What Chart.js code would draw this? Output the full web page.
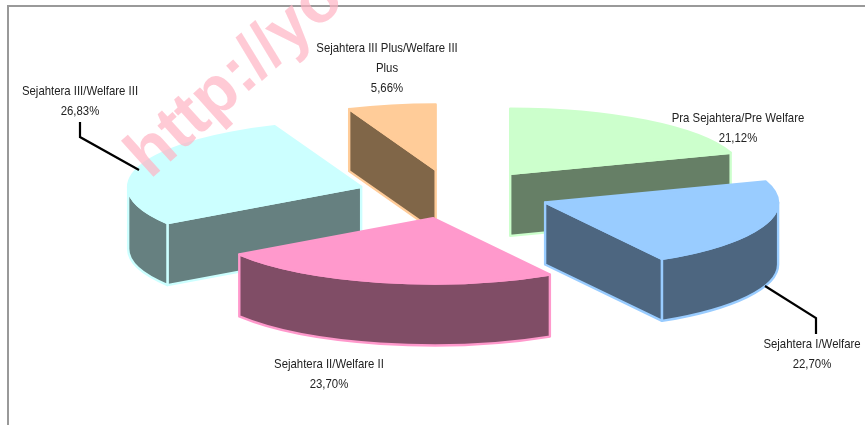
<!DOCTYPE html>
<html><head><meta charset="utf-8">
<style>html,body{margin:0;padding:0;background:#fff}canvas{display:block}</style>
<script src="https://cdn.jsdelivr.net/npm/chart.js@4"></script>
</head><body><canvas id="c" width="865" height="425"></canvas>
<script>
const categories = ['Pra Sejahtera/Pre Welfare','Sejahtera I/Welfare','Sejahtera II/Welfare II','Sejahtera III/Welfare III','Sejahtera III Plus/Welfare III Plus'];
const values = [21.12,22.70,23.70,26.83,5.66];
const valueLabels = ['21,12%','22,70%','23,70%','26,83%','5,66%'];
const topColors = ['#CCFFCC','#99CCFF','#FF99CC','#CCFFFF','#FFCC99'];
const wallColors = ['#667F66','#4D6680','#804D66','#668080','#806648'];
const explode = [97,97,97,97,97];
const drawOrder = [4,0,3,1,2];
const watermark = 'http://you';
const RIM_TILT = 0.28, OFFSET_TILT = 0.255, DEPTH = 62, WARP = 8*Math.PI/180;
const labelLayout = [
  {x:738,y:118,lines:['Pra Sejahtera/Pre Welfare','21,12%']},
  {x:812,y:344,lines:['Sejahtera I/Welfare','22,70%']},
  {x:329,y:364,lines:['Sejahtera II/Welfare II','23,70%']},
  {x:80,y:91,lines:['Sejahtera III/Welfare III','26,83%']},
  {x:387,y:48,lines:['Sejahtera III Plus/Welfare III','Plus','5,66%']}
];
const leaders = [[[80,122],[80,137],[139,170]],[[765,286],[816,318],[816,334]]];

// foreshortening of the 3D view: angles swing slightly towards the back
const warp = a => a - WARP*Math.sin((a + Math.PI/2)/2);

function slice3D(ctx, el, i){
  const p = el.getProps(['x','y','startAngle','endAngle','outerRadius'], true);
  const a0 = warp(p.startAngle), a1 = warp(p.endAngle), r = p.outerRadius;
  const mid = warp((p.startAngle+p.endAngle)/2), off = el.options.offset || 0;
  const ax = p.x + Math.cos(mid)*off, ay = p.y + Math.sin(mid)*off*OFFSET_TILT;
  const edge = a => [ax + r*Math.cos(a), ay + r*RIM_TILT*Math.sin(a)];
  ctx.lineJoin = 'round';
  ctx.lineWidth = 2.4;
  ctx.strokeStyle = topColors[i];
  ctx.fillStyle = wallColors[i];
  const face = a => {
    const e = edge(a);
    ctx.beginPath();
    ctx.moveTo(ax,ay); ctx.lineTo(e[0],e[1]); ctx.lineTo(e[0],e[1]+DEPTH); ctx.lineTo(ax,ay+DEPTH);
    ctx.closePath(); ctx.fill(); ctx.stroke();
  };
  if (Math.cos(a0) < -0.001) face(a0);
  if (Math.cos(a1) > 0.001) face(a1);
  const lo = Math.max(a0, 0), hi = Math.min(a1, Math.PI);
  if (hi > lo) {
    ctx.beginPath();
    ctx.ellipse(ax,ay,r,r*RIM_TILT,0,lo,hi,false);
    ctx.ellipse(ax,ay+DEPTH,r,r*RIM_TILT,0,hi,lo,true);
    ctx.closePath(); ctx.fill(); ctx.stroke();
  }
  ctx.fillStyle = topColors[i];
  ctx.beginPath();
  ctx.moveTo(ax,ay);
  ctx.ellipse(ax,ay,r,r*RIM_TILT,0,a0,a1,false);
  ctx.closePath(); ctx.fill(); ctx.stroke();
}

const pie3D = {
  id:'pie3D',
  beforeDraw(chart){
    const ctx = chart.ctx;
    ctx.save();
    ctx.strokeStyle = '#999999'; ctx.lineWidth = 2;
    ctx.beginPath(); ctx.moveTo(865,6); ctx.lineTo(8,6); ctx.lineTo(8,425); ctx.stroke();
    ctx.restore();
  },
  beforeDatasetDraw(chart, args){
    const ctx = chart.ctx, arcs = args.meta.data;
    ctx.save();
    drawOrder.forEach(i => slice3D(ctx, arcs[i], i));
    ctx.restore();
    return false;
  },
  afterDraw(chart){
    const ctx = chart.ctx;
    ctx.save();
    ctx.strokeStyle = '#000'; ctx.lineWidth = 2.2; ctx.lineJoin='miter';
    leaders.forEach(l => { ctx.beginPath(); l.forEach((q,j)=> j?ctx.lineTo(q[0],q[1]):ctx.moveTo(q[0],q[1])); ctx.stroke(); });
    ctx.fillStyle = '#222';
    ctx.font = '13px "Liberation Sans",Arial,sans-serif';
    ctx.textAlign = 'center'; ctx.textBaseline = 'middle';
    labelLayout.forEach(l => l.lines.forEach((t,j)=> {
      ctx.save();
      ctx.translate(l.x, l.y + j*20.3);
      ctx.scale(0.875,1);
      ctx.fillText(t,0,0);
      ctx.restore();
    }));
    ctx.save();
    ctx.translate(150,180);
    ctx.rotate(-42*Math.PI/180);
    ctx.font = 'bold 67px "Liberation Sans",Arial,sans-serif';
    ctx.textAlign = 'left'; ctx.textBaseline = 'alphabetic';
    ctx.fillStyle = 'rgba(255,180,195,0.7)';
    ctx.strokeStyle = 'rgba(255,180,195,0.7)';
    ctx.fillText(watermark, 0, 0);
    ctx.restore();
    ctx.restore();
  }
};

new Chart(document.getElementById('c'), {
  type:'pie',
  data:{labels:categories,datasets:[{data:values,backgroundColor:topColors,borderColor:topColors,borderWidth:0,offset:explode}]},
  options:{
    responsive:false,animation:false,radius:233,rotation:0,
    layout:{padding:{left:43,right:0,top:0,bottom:37}},
    events:[],
    plugins:{legend:{display:false},tooltip:{enabled:false},title:{display:false}}
  },
  plugins:[pie3D]
});
</script></body></html>
